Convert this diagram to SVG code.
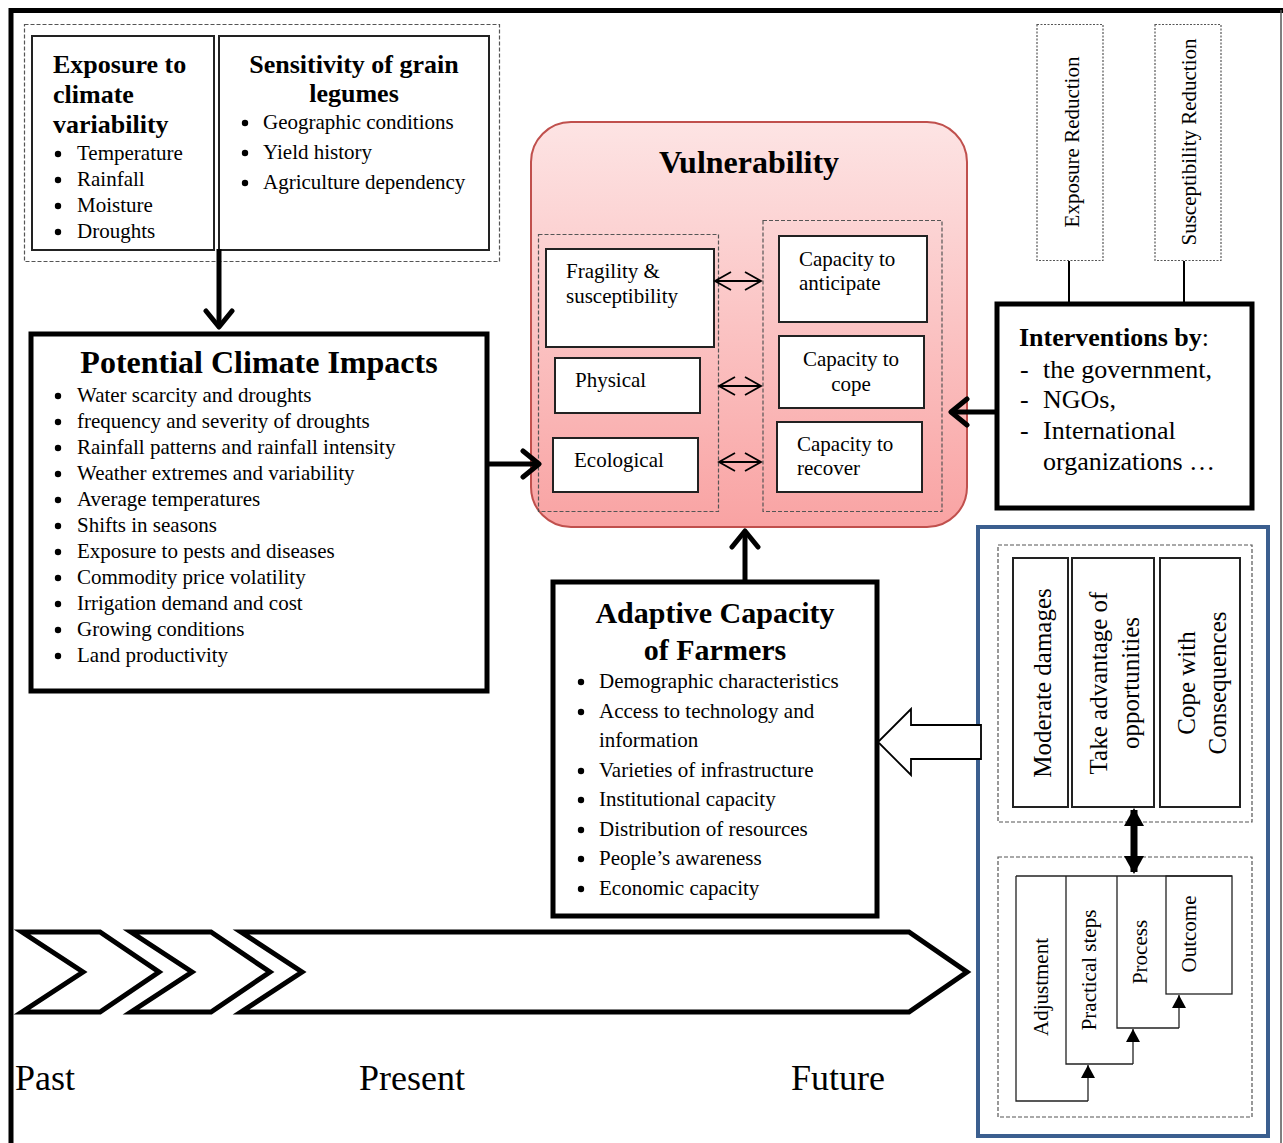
<svg xmlns="http://www.w3.org/2000/svg" width="1283" height="1143" viewBox="0 0 1283 1143">
<style>
text{font-family:"Liberation Serif","Times New Roman",serif;fill:#000}
.b{font-weight:bold}
.f21{font-size:21px}
.f25{font-size:25px}
.f26{font-size:26px}
.f30{font-size:30px}
.f32{font-size:32px}
.f36{font-size:36px}
.bul circle{fill:#000}
.box{fill:#fff;stroke:#222;stroke-width:2}
.thick{fill:#fff;stroke:#000;stroke-width:5}
.dash{fill:none;stroke:#555;stroke-width:1.2;stroke-dasharray:4 2}
.dot{fill:none;stroke:#555;stroke-width:1.2;stroke-dasharray:2 1.5}
.conn{fill:none;stroke:#000;stroke-width:5}
.thin{fill:none;stroke:#000;stroke-width:1.8}
.stair{fill:none;stroke:#222;stroke-width:1.3}
.chev{fill:#fff;stroke:#000;stroke-width:5;stroke-linejoin:miter}
.m{text-anchor:middle}
</style>
<defs>
<linearGradient id="vg" x1="0" y1="0" x2="0" y2="1">
<stop offset="0" stop-color="#fde4e4"/>
<stop offset="1" stop-color="#f9a3a3"/>
</linearGradient>
<marker id="hThick" markerUnits="userSpaceOnUse" viewBox="0 0 24 32" refX="20" refY="16" markerWidth="24" markerHeight="32" orient="auto">
<path d="M4,3 L20,16 L4,29" fill="none" stroke="#000" stroke-width="5" stroke-linecap="round" stroke-linejoin="round"/>
</marker>
<marker id="hThin" markerUnits="userSpaceOnUse" viewBox="0 0 20 22" refX="18" refY="11" markerWidth="20" markerHeight="22" orient="auto-start-reverse">
<path d="M2,2 L18,11 L2,20" fill="none" stroke="#000" stroke-width="1.8"/>
</marker>
<marker id="hFill" markerUnits="userSpaceOnUse" viewBox="0 0 18 20" refX="16" refY="10" markerWidth="18" markerHeight="20" orient="auto-start-reverse">
<path d="M0,0 L18,10 L0,20 Z" fill="#000"/>
</marker>
<marker id="hSmall" markerUnits="userSpaceOnUse" viewBox="0 0 13 14" refX="13" refY="7" markerWidth="13" markerHeight="14" orient="auto">
<path d="M0,0 L13,7 L0,14 Z" fill="#000"/>
</marker>
</defs>
<rect width="1283" height="1143" fill="#fff"/>
<!-- outer frame -->
<path d="M11,1143 L11,10.5 L1283,10.5" fill="none" stroke="#000" stroke-width="5"/>
<line x1="1281" y1="10" x2="1281" y2="1143" stroke="#555" stroke-width="1.5"/>

<g id="exposure-sensitivity">
<rect class="dash" x="24.5" y="24.5" width="475" height="237"/>
<rect class="box" x="32" y="36" width="182" height="214"/>
<rect class="box" x="219" y="36" width="270" height="214"/>
<text class="b f26" x="53" y="73">Exposure to</text>
<text class="b f26" x="53" y="103">climate</text>
<text class="b f26" x="53" y="133">variability</text>
<g class="bul">
<circle cx="58" cy="154" r="3.2"/><circle cx="58" cy="180" r="3.2"/><circle cx="58" cy="206" r="3.2"/><circle cx="58" cy="232" r="3.2"/>
</g>
<g class="f21">
<text x="77" y="160">Temperature</text>
<text x="77" y="186">Rainfall</text>
<text x="77" y="212">Moisture</text>
<text x="77" y="238">Droughts</text>
</g>
<text class="b f26 m" x="354" y="73">Sensitivity of grain</text>
<text class="b f26 m" x="354" y="102">legumes</text>
<g class="bul">
<circle cx="245" cy="123" r="3.2"/><circle cx="245" cy="153" r="3.2"/><circle cx="245" cy="183" r="3.2"/>
</g>
<g class="f21">
<text x="263" y="129">Geographic conditions</text>
<text x="263" y="159">Yield history</text>
<text x="263" y="189">Agriculture dependency</text>
</g>
</g>

<g id="potential-impacts">
<rect class="thick" x="31" y="334" width="456" height="357"/>
<text class="b f32 m" x="259" y="373">Potential Climate Impacts</text>
<g class="bul">
<circle cx="58" cy="396" r="3.2"/><circle cx="58" cy="422" r="3.2"/><circle cx="58" cy="448" r="3.2"/><circle cx="58" cy="474" r="3.2"/>
<circle cx="58" cy="500" r="3.2"/><circle cx="58" cy="526" r="3.2"/><circle cx="58" cy="552" r="3.2"/><circle cx="58" cy="578" r="3.2"/>
<circle cx="58" cy="604" r="3.2"/><circle cx="58" cy="630" r="3.2"/><circle cx="58" cy="656" r="3.2"/>
</g>
<g class="f21">
<text x="77" y="402">Water scarcity and droughts</text>
<text x="77" y="428">frequency and severity of droughts</text>
<text x="77" y="454">Rainfall patterns and rainfall intensity</text>
<text x="77" y="480">Weather extremes and variability</text>
<text x="77" y="506">Average temperatures</text>
<text x="77" y="532">Shifts in seasons</text>
<text x="77" y="558">Exposure to pests and diseases</text>
<text x="77" y="584">Commodity price volatility</text>
<text x="77" y="610">Irrigation demand and cost</text>
<text x="77" y="636">Growing conditions</text>
<text x="77" y="662">Land productivity</text>
</g>
</g>

<g id="vulnerability">
<rect x="531" y="122" width="436" height="405" rx="40" fill="url(#vg)" stroke="#c0504d" stroke-width="2"/>
<text class="b f32 m" x="749" y="173">Vulnerability</text>
<rect class="dash" x="538.5" y="234.5" width="180" height="277"/>
<rect class="dash" x="763" y="220.5" width="179" height="291"/>
<g id="fragility"><rect class="box" x="546" y="249" width="168" height="98"/>
<text class="f21" x="566" y="278">Fragility &amp;</text><text class="f21" x="566" y="303">susceptibility</text></g>
<g id="physical"><rect class="box" x="555" y="358" width="145" height="55"/>
<text class="f21" x="575" y="387">Physical</text></g>
<g id="ecological"><rect class="box" x="553" y="438" width="145" height="54"/>
<text class="f21" x="574" y="467">Ecological</text></g>
<g id="anticipate"><rect class="box" x="779" y="236" width="148" height="86"/>
<text class="f21" x="799" y="266">Capacity to</text><text class="f21" x="799" y="290">anticipate</text></g>
<g id="cope"><rect class="box" x="779" y="336" width="145" height="72"/>
<text class="f21 m" x="851" y="366">Capacity to</text><text class="f21 m" x="851" y="391">cope</text></g>
<g id="recover"><rect class="box" x="777" y="422" width="145" height="70"/>
<text class="f21" x="797" y="451">Capacity to</text><text class="f21" x="797" y="475">recover</text></g>
</g>

<g id="adaptive-capacity">
<rect class="thick" x="553" y="582" width="324" height="334"/>
<text class="b f30 m" x="715" y="623">Adaptive Capacity</text>
<text class="b f30 m" x="715" y="660">of Farmers</text>
<g class="bul">
<circle cx="581" cy="682" r="3.2"/><circle cx="581" cy="712" r="3.2"/><circle cx="581" cy="771" r="3.2"/>
<circle cx="581" cy="800" r="3.2"/><circle cx="581" cy="830" r="3.2"/><circle cx="581" cy="859" r="3.2"/><circle cx="581" cy="889" r="3.2"/>
</g>
<g class="f21">
<text x="599" y="688">Demographic characteristics</text>
<text x="599" y="718">Access to technology and</text>
<text x="599" y="747">information</text>
<text x="599" y="777">Varieties of infrastructure</text>
<text x="599" y="806">Institutional capacity</text>
<text x="599" y="836">Distribution of resources</text>
<text x="599" y="865">People’s awareness</text>
<text x="599" y="895">Economic capacity</text>
</g>
</g>

<g id="reductions">
<rect class="dot" x="1037" y="24.5" width="66" height="236"/>
<text class="f21 m" transform="translate(1072,142) rotate(-90)" dy="0.35em">Exposure Reduction</text>
<rect class="dot" x="1155" y="24.5" width="66" height="236"/>
<text class="f21 m" transform="translate(1189,142) rotate(-90)" dy="0.35em">Susceptibility Reduction</text>
</g>

<g id="interventions">
<rect class="thick" x="997" y="304" width="255" height="204"/>
<text class="f26" x="1019" y="346"><tspan class="b">Interventions by</tspan>:</text>
<g class="f26">
<text x="1020" y="378">-</text><text x="1043" y="378">the government,</text>
<text x="1020" y="408">-</text><text x="1043" y="408">NGOs,</text>
<text x="1020" y="439">-</text><text x="1043" y="439">International</text>
<text x="1043" y="470">organizations …</text>
</g>
</g>

<g id="adaptation-panel">
<rect x="978" y="527" width="290" height="609" fill="none" stroke="#3b5f8f" stroke-width="4"/>
<rect class="dash" x="998" y="545" width="254" height="277"/>
<rect class="box" x="1013" y="558" width="55" height="249" stroke-width="1.5"/>
<text class="f25 m" transform="translate(1042,683) rotate(-90)" dy="0.35em">Moderate damages</text>
<rect class="box" x="1072" y="558" width="82" height="249" stroke-width="1.5"/>
<text class="f25 m" transform="translate(1098,683) rotate(-90)" dy="0.35em">Take advantage of</text>
<text class="f25 m" transform="translate(1130,683) rotate(-90)" dy="0.35em">opportunities</text>
<rect class="box" x="1160" y="558" width="80" height="249" stroke-width="1.5"/>
<text class="f25 m" transform="translate(1186,683) rotate(-90)" dy="0.35em">Cope with</text>
<text class="f25 m" transform="translate(1217,683) rotate(-90)" dy="0.35em">Consequences</text>
<rect class="dash" x="998" y="857" width="254" height="260"/>
<g id="stairs">
<line class="stair" x1="1016" y1="876" x2="1232" y2="876"/>
<polyline class="stair" points="1016,876 1016,1101 1088,1101"/>
<polyline class="stair" points="1066,876 1066,1064 1133,1064"/>
<polyline class="stair" points="1117,876 1117,1028 1179,1028"/>
<rect class="stair" x="1166" y="876" width="66" height="118"/>
<text class="f21 m" transform="translate(1041,987) rotate(-90)" dy="0.35em">Adjustment</text>
<text class="f21 m" transform="translate(1089,970) rotate(-90)" dy="0.35em">Practical steps</text>
<text class="f21 m" transform="translate(1140,952) rotate(-90)" dy="0.35em">Process</text>
<text class="f21 m" transform="translate(1189,934) rotate(-90)" dy="0.35em">Outcome</text>
</g>
</g>

<g id="timeline">
<polygon class="chev" points="22,932 100,932 159,972 100,1012 22,1012 83,972"/>
<polygon class="chev" points="131,932 211,932 270,972 211,1012 131,1012 192,972"/>
<polygon class="chev" points="241,932 909,932 967,972 909,1012 241,1012 302,972"/>
<text class="f36" x="15" y="1090">Past</text>
<text class="f36" x="359" y="1090">Present</text>
<text class="f36" x="791" y="1090">Future</text>
</g>

<g id="connectors">
<line class="conn" x1="219" y1="249" x2="219" y2="327" marker-end="url(#hThick)"/>
<line class="conn" x1="487" y1="464" x2="539" y2="464" marker-end="url(#hThick)"/>
<line class="conn" x1="997" y1="412" x2="951" y2="412" marker-end="url(#hThick)"/>
<line class="conn" x1="745" y1="582" x2="745" y2="531" marker-end="url(#hThick)"/>
<line class="thin" x1="715" y1="281" x2="761" y2="281" marker-start="url(#hThin)" marker-end="url(#hThin)"/>
<line class="thin" x1="719" y1="386" x2="761" y2="386" marker-start="url(#hThin)" marker-end="url(#hThin)"/>
<line class="thin" x1="719" y1="462" x2="761" y2="462" marker-start="url(#hThin)" marker-end="url(#hThin)"/>
<line stroke="#000" stroke-width="7" x1="1134" y1="810" x2="1134" y2="872" marker-start="url(#hFill)" marker-end="url(#hFill)"/>
<polygon points="981,725 911,725 911,709 878,742 911,775 911,759 981,759" fill="#fff" stroke="#000" stroke-width="1.8"/>
<line class="stair" x1="1088" y1="1101" x2="1088" y2="1065" marker-end="url(#hSmall)"/>
<line class="stair" x1="1133" y1="1064" x2="1133" y2="1029" marker-end="url(#hSmall)"/>
<line class="stair" x1="1179" y1="1028" x2="1179" y2="995" marker-end="url(#hSmall)"/>
<line stroke="#000" stroke-width="2" x1="1069" y1="261" x2="1069" y2="303"/>
<line stroke="#000" stroke-width="2" x1="1184" y1="261" x2="1184" y2="303"/>
</g>
</svg>
